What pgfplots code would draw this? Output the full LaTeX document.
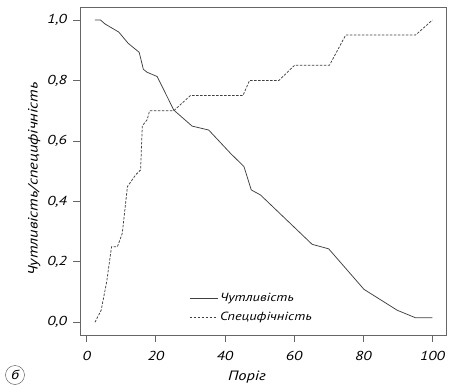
\documentclass[border=0pt]{standalone}
\usepackage{pgfplots}
\pgfplotsset{compat=1.18}
\usepackage{fontspec}
\setmainfont{PT Sans}[FakeStretch=1.22]
\begin{document}
\fontsize{13}{15}\selectfont
\begin{tikzpicture}
\useasboundingbox (-80pt,-56pt) rectangle (393pt,335pt);
\begin{axis}[
  scale only axis,
  width=366pt, height=328pt,
  xmin=-1.92, xmax=103.92,
  ymin=-0.042, ymax=1.043,
  xtick={0,20,40,60,80,100},
  ytick={0,0.2,0.4,0.6,0.8,1.0},
  xtick pos=left, ytick pos=left,
  tick align=outside,
  major tick length=6.5pt,
  axis line style={color=black!60, line width=0.8pt},
  tick style={color=black!60, line width=0.8pt},
  /pgf/number format/assume math mode=true,
  yticklabel style={xshift=-2pt, /pgf/number format/use comma, /pgf/number format/fixed, /pgf/number format/fixed zerofill, /pgf/number format/precision=1},
  ticklabel style={font=\fontsize{13}{15}\selectfont\itshape},
  xticklabel style={yshift=-5pt},
  xlabel={\itshape Поріг},
  ylabel={\itshape Чутливість/специфічність},
  xlabel style={font=\fontsize{13.5}{15}\selectfont, yshift=-2pt, xshift=-16pt},
  ylabel style={font=\fontsize{13.5}{15}\selectfont, yshift=-2pt, xshift=-8pt},
  legend style={draw=none, fill=none, at={(0.29,0.14)}, anchor=north west,
    font=\fontsize{11.8}{13}\selectfont\itshape, row sep=5pt},
  legend cell align=left,
  legend image code/.code={\draw[#1] (0pt,0pt) -- (28pt,0pt);},
]
\addplot[color=black!75, line width=0.75pt] coordinates {
(2.4,1.0) (4,1.0) (5.3,0.987) (9.3,0.96) (12,0.923) (15.2,0.893) (16.4,0.837)
(17.5,0.827) (20.4,0.813) (25.2,0.702) (30.5,0.649) (35.3,0.636) (41.6,0.559)
(45.5,0.515) (47.6,0.438) (50.3,0.421) (65.2,0.258) (70.0,0.243) (80.2,0.109)
(89.8,0.04) (95.1,0.015) (100,0.015)
};
\addlegendentry{Чутливість}
\addplot[color=black!75, line width=0.75pt, dash pattern=on 2.5pt off 1.5pt] coordinates {
(2.4,0) (4.2,0.04) (5.8,0.134) (7.2,0.25) (8.9,0.25) (10.3,0.294) (11.8,0.449)
(14.2,0.488) (15.6,0.504) (16.1,0.65) (17.5,0.67) (18.2,0.70) (25.2,0.70)
(30,0.75) (45.2,0.75) (47.1,0.80) (55.6,0.80) (60.1,0.85) (70.2,0.85)
(74.9,0.95) (95.1,0.95) (100,1.0)
};
\addlegendentry{Специфічність}
\end{axis}
\node[circle, draw=black!70, inner sep=1.5pt, minimum size=19pt, font=\fontsize{13}{15}\selectfont\itshape] at (-65pt,-40pt) {б};
\end{tikzpicture}
\end{document}
